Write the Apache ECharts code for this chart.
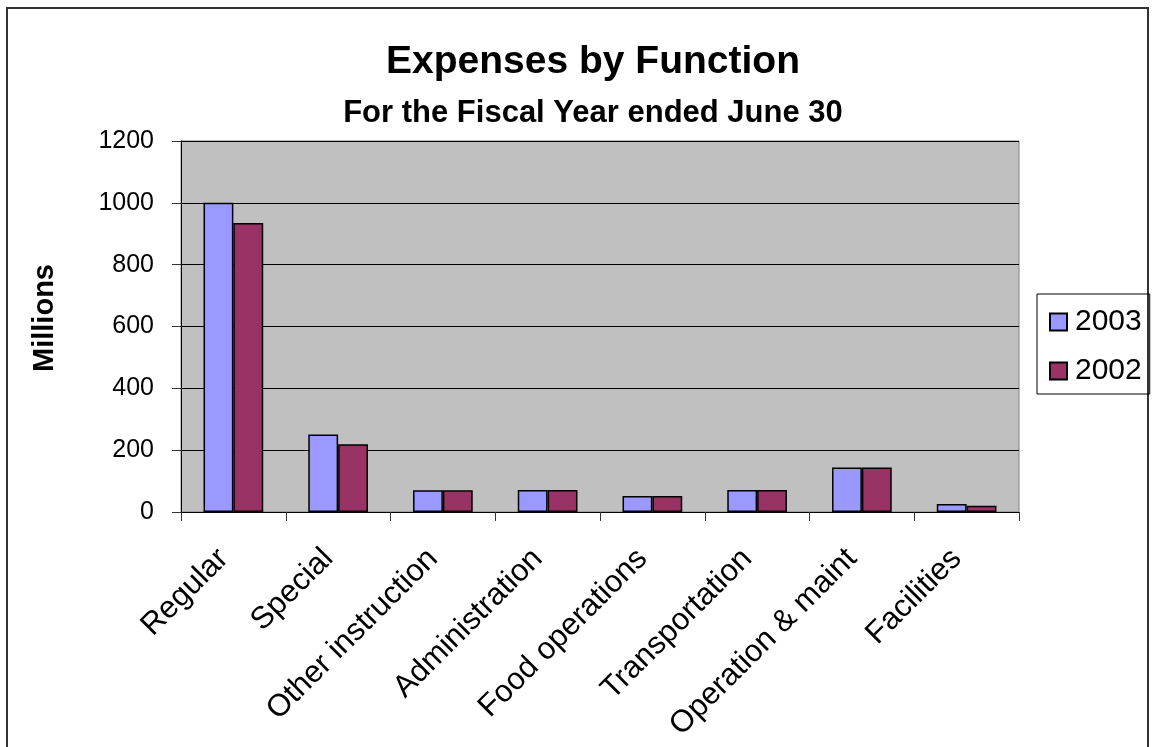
<!DOCTYPE html>
<html>
<head>
<meta charset="utf-8">
<script src="https://cdn.jsdelivr.net/npm/echarts@6/dist/echarts.min.js"></script>
<style>
html,body{margin:0;padding:0;background:#fff;}
#c{width:1156px;height:747px;}
</style>
</head>
<body>
<div id="c"></div>
<script>
const categories = ['Regular', 'Special', 'Other instruction', 'Administration', 'Food operations', 'Transportation', 'Operation & maint', 'Facilities'];
const values2003 = [1000, 251, 70, 71, 52, 71, 144, 26];
const values2002 = [935, 219, 70, 71, 52, 71, 144, 20];
const seriesNames = ['2003', '2002'];
const yTicks = [0, 200, 400, 600, 800, 1000, 1200];

const FONT = '"Liberation Sans", Arial, sans-serif';
const chart = echarts.init(document.getElementById('c'), null, {renderer: 'canvas'});

chart.setOption({
  backgroundColor: '#fff',
  animation: false,
  title: [
    {text: 'Expenses by Function', left: 588, top: 38, textAlign: 'center',
     textStyle: {fontFamily: FONT, fontSize: 39, fontWeight: 'bold', color: '#000'}},
    {text: 'For the Fiscal Year ended June 30', left: 588, top: 93, textAlign: 'center',
     textStyle: {fontFamily: FONT, fontSize: 31, fontWeight: 'bold', color: '#000'}}
  ],
  graphic: [
    {type: 'rect', shape: {x: 7, y: 8, width: 1141, height: 800}, silent: true,
     style: {fill: 'none', stroke: '#333', lineWidth: 2}},
    {type: 'text', x: 45, y: 318, rotation: Math.PI / 2, silent: true,
     style: {text: 'Millions', align: 'center', verticalAlign: 'middle',
             font: 'bold 29px "Liberation Sans", Arial, sans-serif', fill: '#000'}}
  ],
  legend: {
    orient: 'vertical', left: 1037, top: 294,
    data: seriesNames,
    icon: 'rect', itemWidth: 17, itemHeight: 17, itemGap: 19,
    padding: [13, 8, 8, 12],
    borderColor: '#000', borderWidth: 1,
    textStyle: {fontFamily: FONT, fontSize: 30, color: '#000', padding: [0, 0, 0, 3]}
  },
  grid: {left: 181, top: 141, right: 137, bottom: 235, show: true,
         backgroundColor: '#C0C0C0', borderColor: '#808080', borderWidth: 1},
  xAxis: {
    type: 'category', data: categories,
    axisLine: {lineStyle: {color: '#000', width: 1}},
    axisTick: {show: true, length: 9, lineStyle: {color: '#333'}},
    axisLabel: {rotate: 45, margin: 32, padding: [0, 14, 0, 0], fontFamily: FONT, fontSize: 31, color: '#000', interval: 0}
  },
  yAxis: {
    type: 'value', min: 0, max: 1200, interval: 200,
    axisLine: {show: true, lineStyle: {color: '#000', width: 1}},
    axisTick: {show: true, length: 9, lineStyle: {color: '#333'}},
    axisLabel: {margin: 27, fontFamily: FONT, fontSize: 25, color: '#000',
      formatter: v => yTicks.includes(v) ? String(v) : ''},
    splitLine: {show: true, lineStyle: {color: '#000', width: 1}}
  },
  series: [
    {name: seriesNames[0], type: 'bar', data: values2003, barGap: '0%', barCategoryGap: '43%',
     itemStyle: {color: '#9999FF', borderColor: '#000', borderWidth: 1.5}},
    {name: seriesNames[1], type: 'bar', data: values2002, barGap: '0%', barCategoryGap: '43%',
     itemStyle: {color: '#993366', borderColor: '#000', borderWidth: 1.5}}
  ]
});
</script>
</body>
</html>
